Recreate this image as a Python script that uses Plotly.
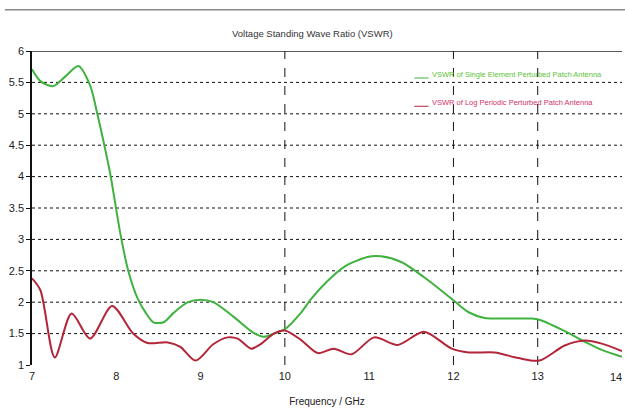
import plotly.graph_objects as go

# ---- data ----
freq_single = [7.0, 7.1, 7.25, 7.4, 7.55, 7.69, 7.77, 7.85, 7.93, 8.05, 8.14, 8.25, 8.35, 8.44, 8.56,
               8.68, 8.85, 9.0, 9.15, 9.39, 9.63, 9.75, 9.87, 10.0, 10.19, 10.31, 10.5, 10.7, 10.98,
               11.14, 11.38, 11.7, 12.0, 12.18, 12.37, 12.65, 12.93, 13.02, 13.29, 13.56, 13.76, 14.0]
vswr_single = [5.71, 5.52, 5.44, 5.6, 5.76, 5.45, 5.03, 4.55, 4.03, 3.08, 2.51, 2.07, 1.83, 1.68, 1.68,
               1.83, 2.0, 2.04, 2.0, 1.77, 1.51, 1.45, 1.5, 1.57, 1.83, 2.05, 2.33, 2.56, 2.72,
               2.73, 2.64, 2.35, 2.03, 1.84, 1.75, 1.74, 1.74, 1.72, 1.56, 1.37, 1.24, 1.13]

freq_log = [7.0, 7.1, 7.27, 7.47, 7.69, 7.95, 8.2, 8.37, 8.61, 8.76, 8.94, 9.15, 9.32, 9.44, 9.6,
            9.71, 9.87, 10.0, 10.19, 10.39, 10.58, 10.79, 11.06, 11.34, 11.65, 11.98, 12.18, 12.49,
            12.77, 13.02, 13.32, 13.56, 13.76, 14.0]
vswr_log = [2.38, 2.19, 1.12, 1.82, 1.42, 1.94, 1.5, 1.35, 1.36, 1.29, 1.07, 1.33, 1.44, 1.42, 1.26,
            1.33, 1.5, 1.55, 1.4, 1.19, 1.26, 1.17, 1.44, 1.32, 1.53, 1.26, 1.2, 1.2,
            1.11, 1.07, 1.31, 1.39, 1.34, 1.22]

x_ticks = [7, 8, 9, 10, 11, 12, 13, 14]
y_ticks = [1, 1.5, 2, 2.5, 3, 3.5, 4, 4.5, 5, 5.5, 6]
y_ticklabels = ["1", "1.5", "2", "2.5", "3", "3.5", "4", "4.5", "5", "5.5", "6"]
h_grid = [1.5, 2, 2.5, 3, 3.5, 4, 4.5, 5, 5.5]
v_grid = [10, 12, 13]

series_names = ["VSWR of Single Element Perturbed Patch Antenna",
                "VSWR of Log Periodic Perturbed Patch Antenna"]

GREEN = "#3fb23f"
RED = "#b3263a"
FONT = "Liberation Sans, Arial, sans-serif"

fig = go.Figure()
fig.add_trace(go.Scatter(x=freq_single, y=vswr_single, mode="lines",
                         line=dict(color=GREEN, width=2, shape="spline", smoothing=0.8),
                         name=series_names[0], showlegend=False))
fig.add_trace(go.Scatter(x=freq_log, y=vswr_log, mode="lines",
                         line=dict(color=RED, width=2, shape="spline", smoothing=0.8),
                         name=series_names[1], showlegend=False))

shapes = []
for g in h_grid:
    shapes.append(dict(type="line", xref="x", yref="y", x0=7, x1=14, y0=g, y1=g,
                       line=dict(color="#111", width=1, dash="dot"), layer="below"))
for g in v_grid:
    shapes.append(dict(type="line", xref="x", yref="y", x0=g, x1=g, y0=1, y1=6,
                       line=dict(color="#111", width=1, dash="dash"), layer="below"))
# top border of plot
shapes.append(dict(type="line", xref="x", yref="y", x0=7, x1=14, y0=6, y1=6,
                   line=dict(color="#222", width=1.5)))
# top page rule
shapes.append(dict(type="line", xref="paper", yref="paper", x0=-0.046, x1=1.01, y0=1.131, y1=1.131,
                   line=dict(color="#888", width=1.5)))
# legend samples
shapes.append(dict(type="line", xref="paper", yref="paper", x0=0.648, x1=0.672, y0=0.914, y1=0.914,
                   line=dict(color=GREEN, width=1)))
shapes.append(dict(type="line", xref="paper", yref="paper", x0=0.648, x1=0.672, y0=0.824, y1=0.824,
                   line=dict(color=RED, width=1)))

annotations = [
    dict(text="Voltage Standing Wave Ratio (VSWR)", xref="paper", yref="paper", x=0.476, y=1.057,
         xanchor="center", yanchor="middle",
         showarrow=False, font=dict(family=FONT, size=9.5, color="#333")),
    dict(text=series_names[0], xref="paper", yref="paper", x=0.674, y=0.926,
         xanchor="left", yanchor="middle",
         showarrow=False, font=dict(family=FONT, size=7.5, color="#5cbf3a")),
    dict(text=series_names[1], xref="paper", yref="paper", x=0.674, y=0.836,
         xanchor="left", yanchor="middle",
         showarrow=False, font=dict(family=FONT, size=7.5, color="#d0306a")),
    # last x tick label, kept inside the page at the right edge
    dict(text=str(x_ticks[-1]), xref="x", yref="paper", x=x_ticks[-1], y=-0.038,
         xanchor="right", yanchor="middle", xshift=2, showarrow=False,
         font=dict(family=FONT, size=11, color="#222")),
]

fig.update_layout(
    width=625, height=414,
    margin=dict(l=32, r=3, t=51, b=49),
    paper_bgcolor="white", plot_bgcolor="white",
    shapes=shapes, annotations=annotations,
    font=dict(family=FONT, size=11, color="#222"),
    xaxis=dict(range=[7, 14], tickvals=x_ticks[:-1], ticktext=[str(t) for t in x_ticks[:-1]],
               showgrid=False, zeroline=False, showline=False, ticks="",
               ticklabelstandoff=3,
               tickfont=dict(family=FONT, size=11, color="#222"),
               title=dict(text="Frequency / GHz", font=dict(family=FONT, size=10, color="#222"),
                          standoff=16)),
    yaxis=dict(range=[1, 6], tickvals=y_ticks, ticktext=y_ticklabels,
               showgrid=False, zeroline=False, showline=True, linecolor="#111", linewidth=1.5,
               ticks="outside", ticklen=4, tickcolor="#111",
               tickfont=dict(family=FONT, size=11, color="#222")),
)

fig.write_html("out.html")
